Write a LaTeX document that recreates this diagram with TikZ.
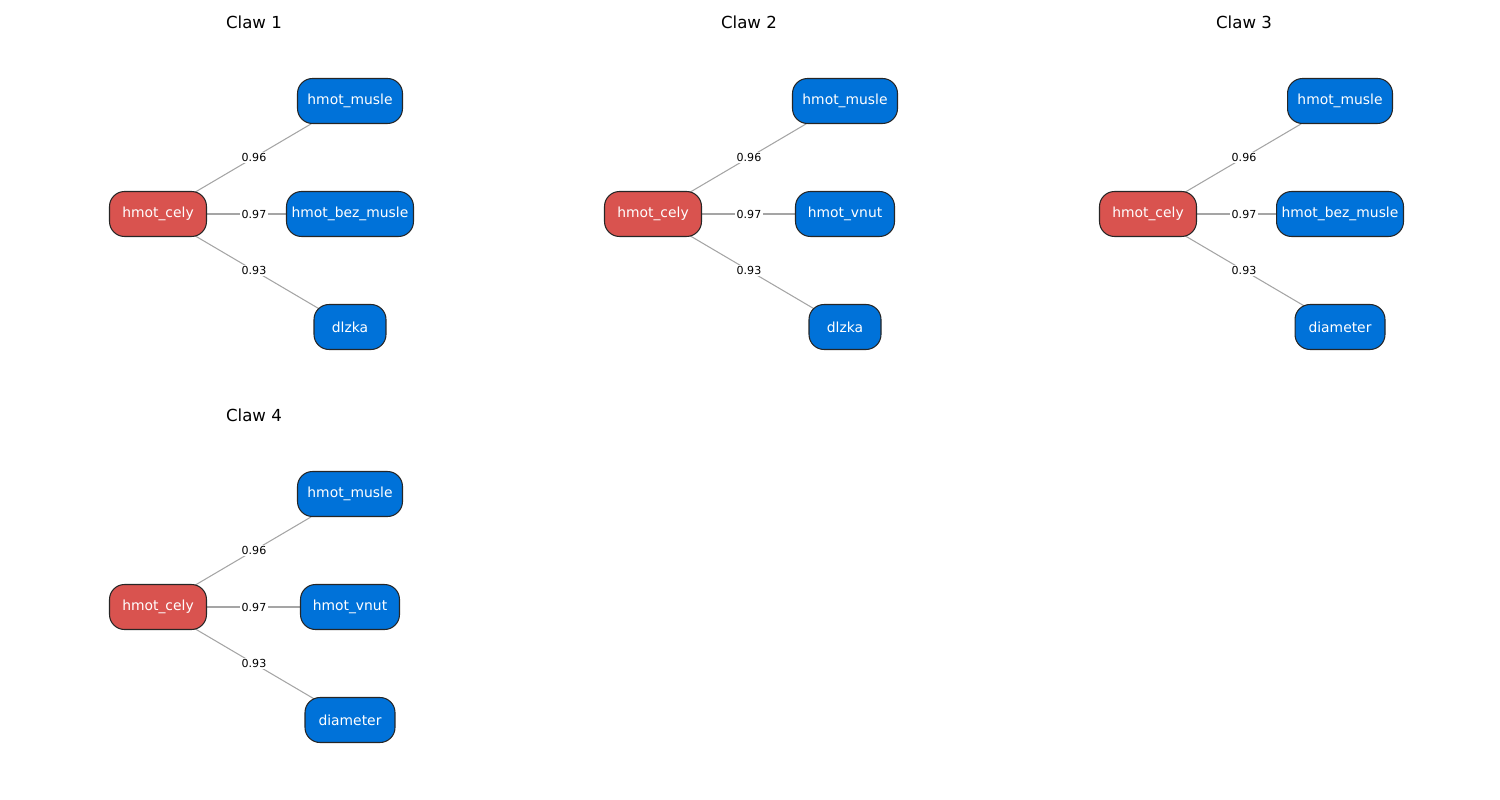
\documentclass[tikz,border=0pt]{standalone}
\usepackage{fontspec}
\setmainfont{DejaVu Sans}
\pgfdeclarelayer{edges}
\pgfsetlayers{edges,main}
\begin{document}
\definecolor{hubred}{RGB}{217,83,79}
\definecolor{leafblue}{RGB}{0,114,217}
\definecolor{edgegrey}{RGB}{165,165,165}
\begin{tikzpicture}[x=0.02cm,y=-0.02cm,
  nodebox/.style={draw=black!85, line width=0.6pt, rounded corners=0.3cm,
    minimum height=0.9cm, inner xsep=0pt, text=white,
    font=\fontsize{7.9}{9}\selectfont},
  hub/.style={nodebox, fill=hubred},
  leaf/.style={nodebox, fill=leafblue},
  link/.style={draw=edgegrey, line width=0.6pt},
  weight/.style={fill=white, inner sep=0.8pt, text=black,
    font=\fontsize{6.3}{7}\selectfont},
  paneltitle/.style={font=\fontsize{9.45}{11}\selectfont}]
\useasboundingbox (0,0) rectangle (1500,800);

% one claw: hub on the left, three leaves on the right
% #4/#5: middle leaf text and width, #6/#7: bottom leaf text and width
\newcommand\clawpanel[8]{%
  \begin{scope}[shift={(#1,#2)}]
    \node[paneltitle] (#8title) at (254,22) {#3};
    \node[hub, minimum width=1.94cm]  (#8hub) at (158,214) {hmot\_cely};
    \node[leaf, minimum width=2.1cm] (#8top) at (350,101) {hmot\_musle};
    \node[leaf, minimum width=#5] (#8mid) at (350,214) {#4};
    \node[leaf, minimum width=#7] (#8bot) at (350,327) {#6};
    \begin{pgfonlayer}{edges}
      \path[link] (#8hub.center) -- node[weight] {0.96} (#8top.center);
      \path[link] (#8hub.center) -- node[weight] {0.97} (#8mid.center);
      \path[link] (#8hub.center) -- node[weight] {0.93} (#8bot.center);
    \end{pgfonlayer}
  \end{scope}}

\clawpanel{0}{0}{Claw 1}{hmot\_bez\_musle}{2.54cm}{dlzka}{1.44cm}{a}
\clawpanel{495}{0}{Claw 2}{hmot\_vnut}{1.98cm}{dlzka}{1.44cm}{b}
\clawpanel{990}{0}{Claw 3}{hmot\_bez\_musle}{2.54cm}{diameter}{1.8cm}{c}
\clawpanel{0}{393}{Claw 4}{hmot\_vnut}{1.98cm}{diameter}{1.8cm}{d}
\end{tikzpicture}
\end{document}
